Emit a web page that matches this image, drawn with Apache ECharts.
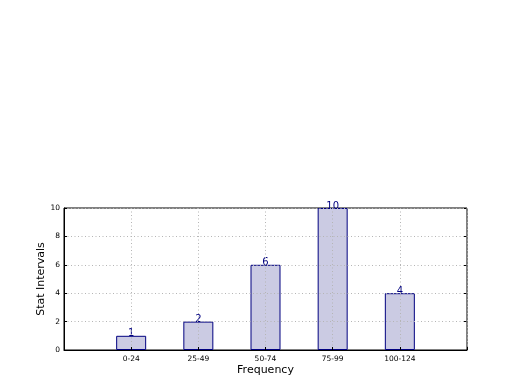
<!DOCTYPE html>
<html><head><meta charset="utf-8">
<script src="https://cdn.jsdelivr.net/npm/echarts@6/dist/echarts.min.js"></script>
<style>html,body{margin:0;padding:0;background:#fff}#c{width:520px;height:390px}</style>
</head><body><div id="c"></div>
<script>
const categories = ['0-24', '25-49', '50-74', '75-99', '100-124'];
const values = [1, 2, 6, 10, 4];
const yTicks = [0, 2, 4, 6, 8, 10];

const chart = echarts.init(document.getElementById('c'));
const font = 'DejaVu Sans';
const grid = {color: '#b5b5b5', type: [1, 2.5], width: 1};
chart.setOption({
  animation: false,
  grid: {left: 64, right: 53, top: 208, bottom: 40, show: true, borderColor: '#000', borderWidth: 1, backgroundColor: 'transparent'},
  xAxis: {
    type: 'value', min: -1, max: 5, interval: 1, z: 5,
    name: 'Frequency', nameLocation: 'middle', nameGap: 15, nameMoveOverlap: false,
    nameTextStyle: {fontFamily: font, fontSize: 11, color: '#000'},
    axisLine: {show: true, onZero: false, lineStyle: {color: '#000'}},
    axisTick: {show: true, inside: true, length: 3, lineStyle: {color: '#000'}},
    axisLabel: {fontFamily: font, fontSize: 7.5, color: '#000', margin: 5,
      formatter: v => (v >= 0 && v < categories.length) ? categories[v] : ''},
    splitLine: {show: true, lineStyle: grid}
  },
  yAxis: [{
    type: 'value', min: 0, max: 10, interval: 2, z: 5,
    name: 'Stat Intervals', nameLocation: 'middle', nameGap: 17, nameMoveOverlap: false,
    nameTextStyle: {fontFamily: font, fontSize: 11, color: '#000'},
    axisLine: {show: true, onZero: false, lineStyle: {color: '#000'}},
    axisTick: {show: true, inside: true, length: 3, lineStyle: {color: '#000'}},
    axisLabel: {fontFamily: font, fontSize: 7.5, color: '#000', margin: 4,
      formatter: v => yTicks.includes(v) ? String(v) : ''},
    splitLine: {show: true, lineStyle: grid}
  }, {
    type: 'value', min: 0, max: 10, interval: 2, position: 'right',
    axisLine: {show: false, onZero: false},
    axisTick: {show: true, inside: true, length: 3, lineStyle: {color: '#000'}},
    axisLabel: {show: false}, splitLine: {show: false}
  }],
  series: [{
    type: 'bar', barWidth: 30, z: 2,
    data: values.map((v, i) => [i, v]),
    itemStyle: {color: '#cbcbe3', borderColor: '#000080', borderWidth: 1},
    label: {show: true, position: 'top', distance: -3, color: '#000080', fontFamily: font, fontSize: 10,
      formatter: p => String(p.value[1])}
  }]
});
</script></body></html>
